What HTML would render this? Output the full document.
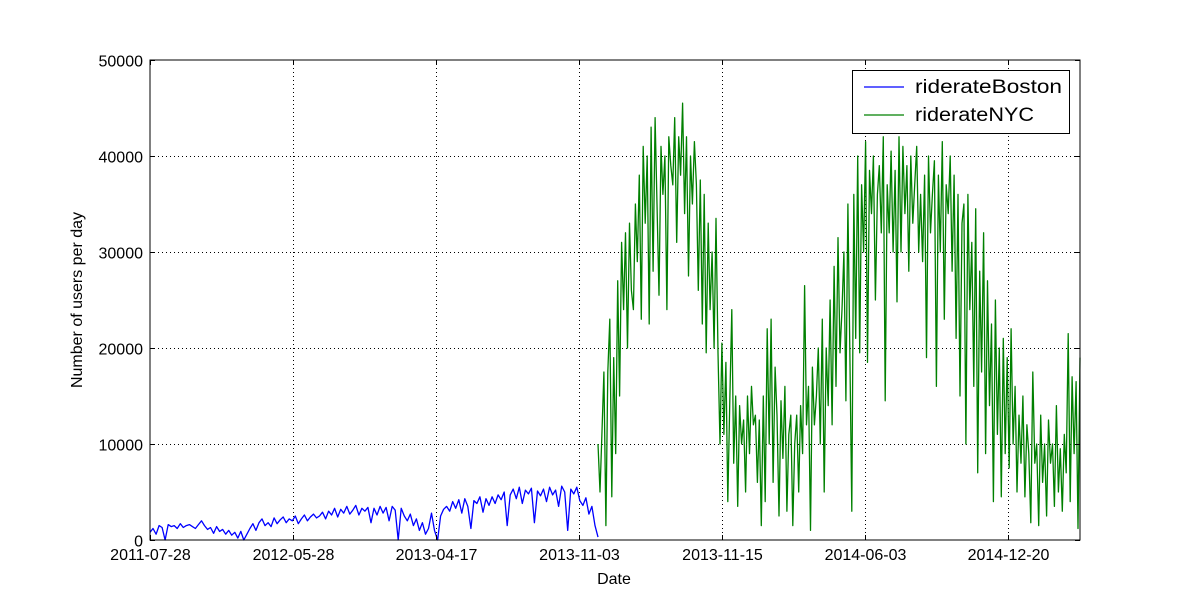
<!DOCTYPE html>
<html><head><meta charset="utf-8"><style>
body{margin:0;background:#fff;}
svg{display:block;font-family:"Liberation Sans","DejaVu Sans",sans-serif;}
</style></head><body>
<svg id="chart" width="1200" height="600">
<rect x="0" y="0" width="1200" height="600" fill="#fff"/>
<g id="grid"></g>
<g id="series"></g>
<rect x="150" y="60" width="930" height="480" fill="none" stroke="#000" stroke-width="1"/>
<g id="ticks"></g>
<text x="614" y="584" font-size="16" text-anchor="middle">Date</text>
<text x="82" y="300" font-size="16" text-anchor="middle" transform="rotate(-90 82 300)">Number of users per day</text>
<g>
<rect x="852.5" y="70.5" width="217" height="63" fill="#fff" stroke="#000"/>
<g>
<line x1="864" y1="87" x2="904" y2="87" stroke="#0000ff" stroke-width="1.2"/>
<text x="915" y="93" font-size="19" textLength="147" lengthAdjust="spacingAndGlyphs">riderateBoston</text></g>
<g>
<line x1="864" y1="115" x2="904" y2="115" stroke="#008000" stroke-width="1.2"/>
<text x="915" y="121" font-size="19" textLength="119" lengthAdjust="spacingAndGlyphs">riderateNYC</text></g>
</g>
</svg>
<script>
const xTickLabels=["2011-07-28","2012-05-28","2013-04-17","2013-11-03","2013-11-15","2014-06-03","2014-12-20"];
const yTicks=[0,10000,20000,30000,40000,50000];
const boston=[800,1200,600,1500,1300,0,1600,1400,1500,1200,1700,1300,1500,1600,1400,1200,1600,2000,1500,1100,1300,700,1400,900,1100,600,1000,500,800,200,
900,0,600,1200,1700,1000,1800,2200,1500,1800,1400,2300,1700,2100,2400,1800,2200,2000,2500,1700,
2200,2600,2000,2400,2700,2300,2500,2900,2200,3000,2600,3300,2400,3200,2800,3500,2700,3100,3600,2600,3300,3000,3400,
1800,3300,2600,3500,2800,3400,2000,3500,3100,0,3300,2500,2000,2700,1500,2200,1000,1800,600,1200,2800,1000,0,
2500,3200,3500,3000,4000,3300,4200,2800,4300,3500,1200,4100,3800,4500,2900,4300,3600,4500,3800,4700,
4200,5000,1500,4700,5300,4300,5500,3800,5200,4800,5400,1800,5100,4600,5300,4000,5500,4700,5200,3500,
5600,5000,1000,5300,4800,5500,4100,3600,4400,2700,3500,1500,300];
const nyc=[10000,5000,11000,17500,1500,17500,23000,4500,19000,9000,
27000,15000,31000,24000,32000,20000,33000,26000,24000,35000,29000,38000,23000,41000,33000,
40000,22500,43000,28000,44000,35000,25500,41000,36000,40000,24000,42000,39000,37000,44000,31000,42000,38000,45500,34000,42000,27500,40000,35000,41500,
37000,26000,37500,22500,36000,19500,33000,24000,30000,20000,
33500,19500,10000,20500,11000,18500,4000,14500,24000,8000,15000,3500,14000,10000,12500,5000,15000,9000,16000,12000,13000,6000,12500,1500,15000,4000,22000,10000,23000,6000,18000,13000,2500,14500,8500,16000,3000,11000,13000,1500,
10000,13000,5000,14000,9000,26500,12000,16000,1000,18000,12000,15000,20000,10000,23000,5000,20000,14000,25000,12000,28500,16000,31500,19500,24000,30000,14500,35000,20000,3000,36000,21000,40000,19500,37000,30000,41500,18500,
38500,34000,40000,25000,36000,39000,32000,42000,14500,37000,32000,40500,30000,38500,24800,42000,30000,41000,34000,39000,28000,40000,33000,37000,41000,30000,36000,29000,38000,19000,40000,32000,36000,39500,16000,38000,30000,41500,23000,37000,34000,40000,28000,38000,21000,36000,15000,33000,
35000,10000,36000,24000,31000,16000,34500,7000,28000,17500,32000,9000,27000,14000,22500,4000,25000,11000,20000,4500,
21000,9000,19000,7500,22000,10000,16000,5000,13000,8000,15000,4500,12000,9000,1800,17500,8000,10000,1500,13000,6000,10000,2500,12500,8000,10000,3500,14000,5000,9500,3000,11000,7000,21500,4000,17000,9000,16500,1200,19000];
const NS="http://www.w3.org/2000/svg";
const X0=150,X1=1080,Y0=540,Y1=60;
const yS=v=>Y0-(v/50000)*(Y0-Y1);
const xTickX=i=>X0+i*143;
const grid=document.getElementById('grid'),ticks=document.getElementById('ticks'),series=document.getElementById('series');
function mk(t,a,p){const e=document.createElementNS(NS,t);for(const k in a)e.setAttribute(k,a[k]);p.appendChild(e);return e;}
yTicks.forEach(v=>{const y=Math.round(yS(v))+0.5;
 if(v>0&&v<50000){const g=mk('line',{x1:X0,y1:y,x2:X1,y2:y,stroke:'#000','stroke-dasharray':'1,3','stroke-width':1},grid);
 
 }
 mk('line',{x1:X0,y1:y,x2:X0+5,y2:y,stroke:'#000'},ticks);
 mk('line',{x1:X1,y1:y,x2:X1-5,y2:y,stroke:'#000'},ticks);
 const t=mk('text',{x:X0-7,y:y+6,'font-size':16,'text-anchor':'end'},ticks);t.textContent=v;
 
 
});
xTickLabels.forEach((l,i)=>{const x=xTickX(i)+0.5;
 if(i>0){const g=mk('line',{x1:x,y1:Y1,x2:x,y2:Y0,stroke:'#000','stroke-dasharray':'1,3'},grid);
 
 }
 mk('line',{x1:x,y1:Y0,x2:x,y2:Y0-5,stroke:'#000'},ticks);
 mk('line',{x1:x,y1:Y1,x2:x,y2:Y1+5,stroke:'#000'},ticks);
 const t=mk('text',{x:x,y:Y0+20,'font-size':16,'text-anchor':'middle'},ticks);t.textContent=l;
 
 
});
function draw(data,xa,xb,color,name){
 const pts=data.map((v,i)=>(xa+(xb-xa)*i/(data.length-1)).toFixed(1)+','+yS(v).toFixed(1)).join(' ');
 const p=mk('polyline',{points:pts,fill:'none',stroke:color,'stroke-width':1.3,'stroke-linejoin':'round'},series);
 
 
}
draw(boston,150,598,'#0000ff','series-boston');
draw(nyc,598,1080,'#008000','series-nyc');
</script>
</body></html>
